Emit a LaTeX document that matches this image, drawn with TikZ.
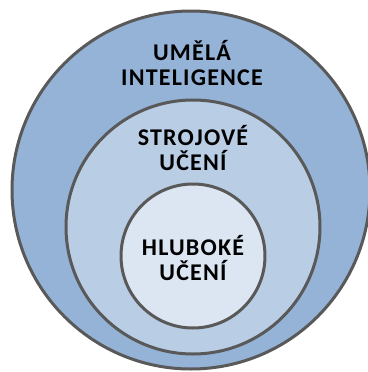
\documentclass[tikz,border=0pt]{standalone}
\usepackage{fontspec}
\setmainfont{Carlito}[LetterSpace=5]
\usepackage{xcolor}
\usetikzlibrary{positioning}

\definecolor{outerblue}{HTML}{95B3D7}
\definecolor{midblue}{HTML}{B9CDE5}
\definecolor{innerblue}{HTML}{DCE6F2}
\definecolor{rimgray}{HTML}{595959}

\begin{document}
\begin{tikzpicture}[x=0.75pt,y=-0.75pt,semithick]
  \tikzstyle{field}=[circle,draw=rimgray,line width=2.25pt,inner sep=0pt]
  \tikzstyle{caption}=[align=center,font=\bfseries\fontsize{18}{19}\selectfont,text=black]
  \useasboundingbox (0,0) rectangle (368,372);

  % Circles
  \node[field,fill=outerblue,minimum size=268.5pt] (ai) at (191,190) {};
  \node[field,fill=midblue,minimum size=190.5pt] (ml) at (193,227) {};
  \node[field,fill=innerblue,minimum size=108pt] (dl) at (193,256) {};

  % Labels
  \node[caption] (ailabel) at (192,63) {UMĚLÁ\\INTELIGENCE};
  \node[caption] (mllabel) at (193,148) {STROJOVÉ\\UČENÍ};
  \node[caption] (dllabel) at (193,258) {HLUBOKÉ\\UČENÍ};
\end{tikzpicture}
\end{document}
